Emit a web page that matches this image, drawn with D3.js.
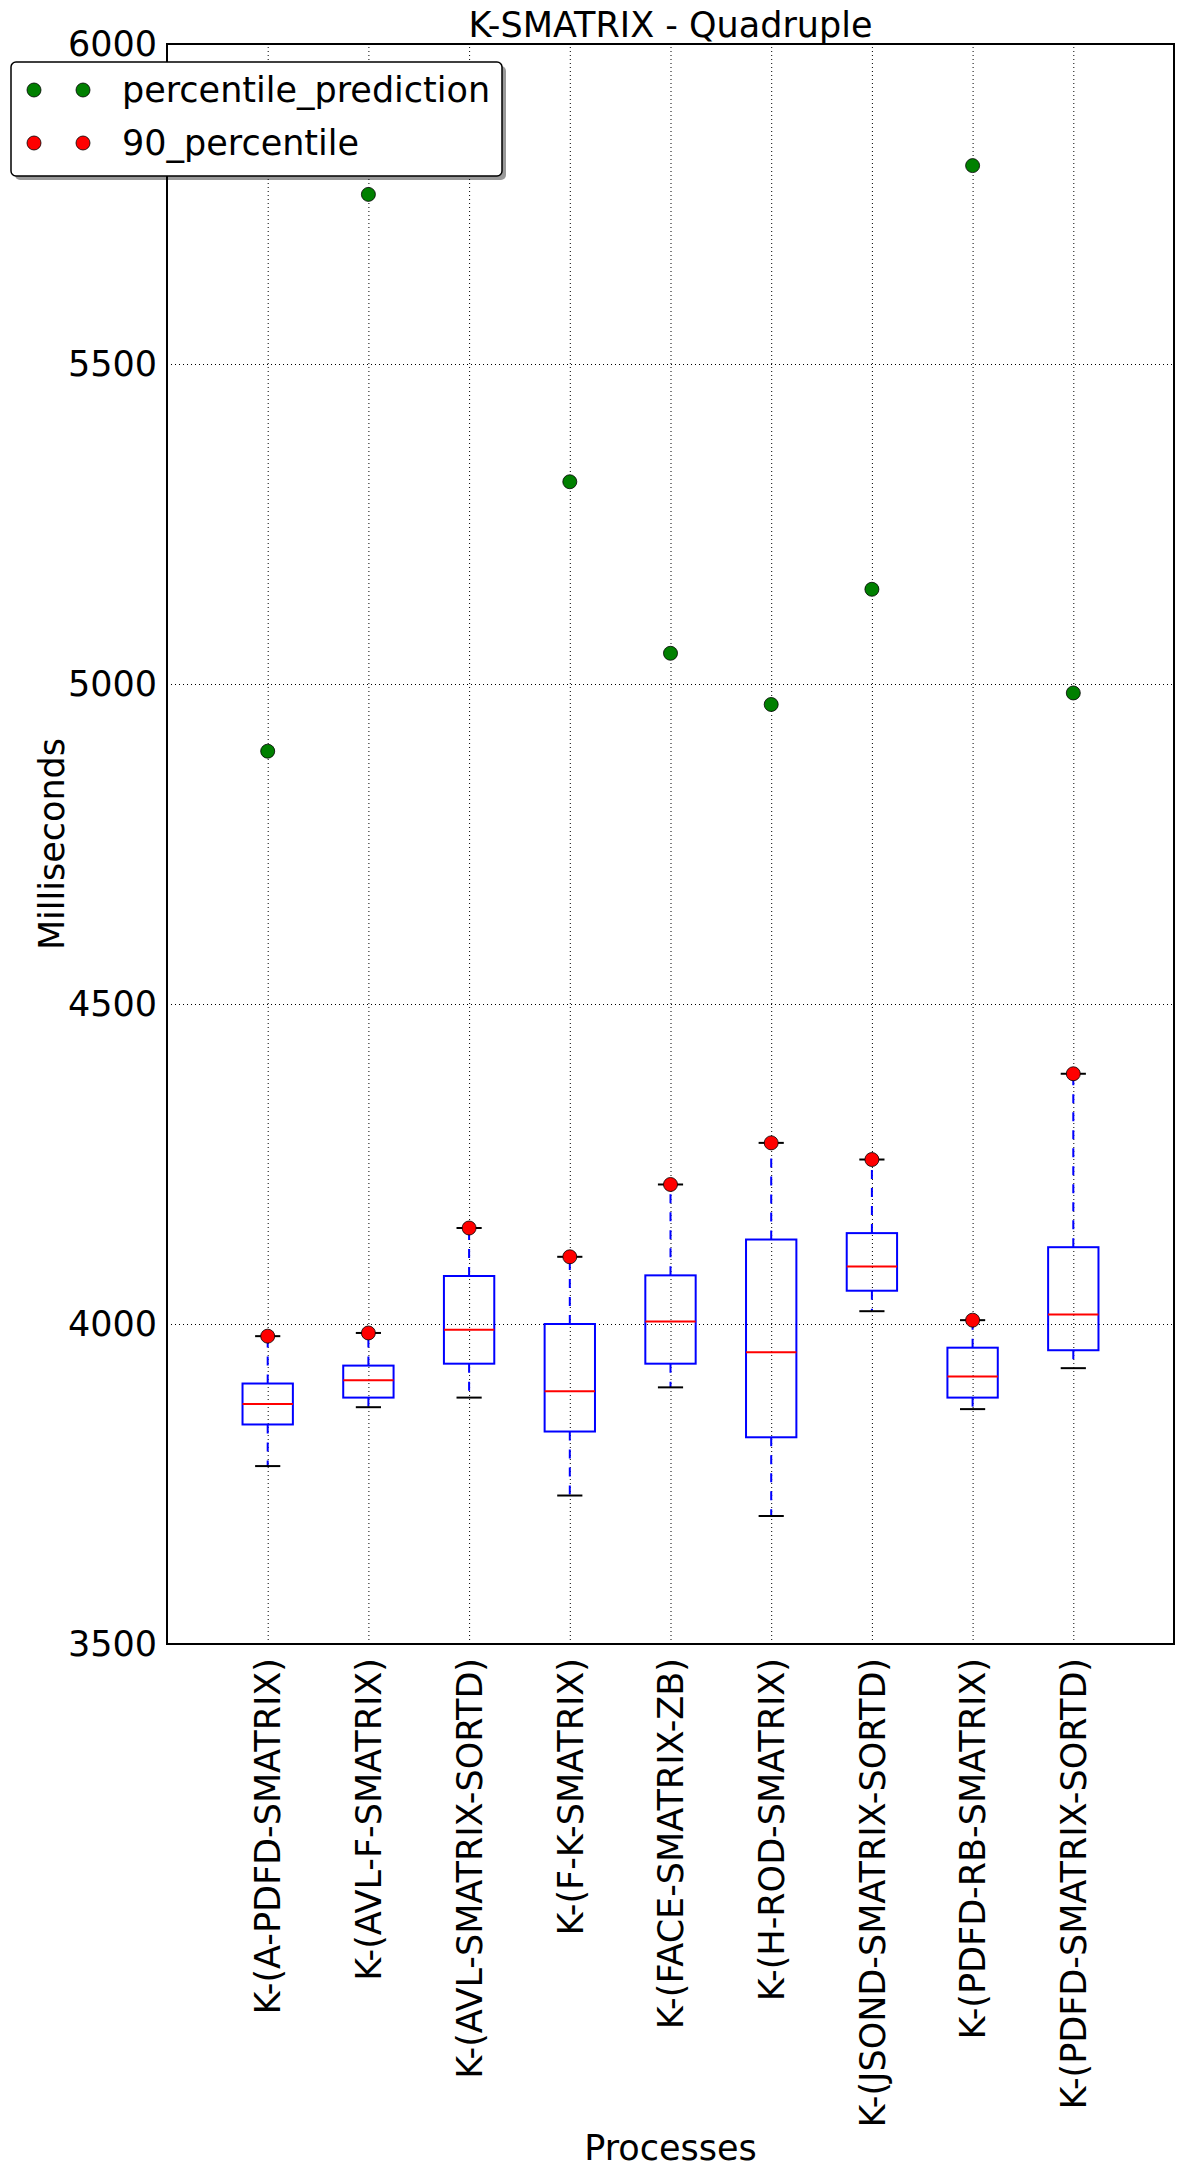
<!DOCTYPE html>
<html>
<head>
<meta charset="utf-8">
<script src="https://cdn.jsdelivr.net/npm/d3@7"></script>
<style>
  html, body { margin: 0; padding: 0; background: #fff; }
  svg { display: block; font-family: "DejaVu Sans", sans-serif; }
</style>
</head>
<body>
<svg id="chart" width="1184" height="2176"></svg>
<script>
const categories = ["K-(A-PDFD-SMATRIX)", "K-(AVL-F-SMATRIX)", "K-(AVL-SMATRIX-SORTD)", "K-(F-K-SMATRIX)", "K-(FACE-SMATRIX-ZB)", "K-(H-ROD-SMATRIX)", "K-(JSOND-SMATRIX-SORTD)", "K-(PDFD-RB-SMATRIX)", "K-(PDFD-SMATRIX-SORTD)"];
const whiskerLow  = [3778, 3870, 3885, 3732, 3901, 3700, 4020, 3867, 3931];
const q1          = [3843, 3885, 3938, 3832, 3938, 3823, 4052, 3885, 3959];
const median      = [3875, 3912, 3991, 3895, 4004, 3956, 4090, 3918, 4015];
const q3          = [3907, 3935, 4075, 4000, 4076, 4132, 4142, 3963, 4120];
const whiskerHigh = [3981, 3986, 4150, 4105, 4218, 4283, 4257, 4006, 4391];
const percentile90 = [3981, 3986, 4150, 4105, 4218, 4283, 4257, 4006, 4391];
const percentilePrediction = [4895, 5765, null, 5316, 5048, 4968, 5148, 5810, 4986];
const yTicks = [3500, 4000, 4500, 5000, 5500, 6000];
const legendLabels = ["percentile_prediction", "90_percentile"];
const legendColors = ["#008000", "#ff0000"];

const L = 167, R = 1174, T = 44, B = 1644;
const svg = d3.select("#chart");
const x = d3.scaleLinear().domain([0, categories.length + 1]).range([L, R]);
const y = d3.scaleLinear().domain([3500, 6000]).range([B, T]);
const pos = categories.map((c, i) => i + 1);
const step = x(1) - x(0);
const boxW = step * 0.5, capW = step * 0.25;
const FS = 35;

// grid
const gy = svg.append("g").attr("transform", `translate(${L},0)`)
  .call(d3.axisLeft(y).tickValues(yTicks).tickSize(-(R - L)).tickFormat(""));
gy.select(".domain").remove();
gy.selectAll("line").attr("stroke", "#000").attr("stroke-width", 1).attr("stroke-dasharray", "1,3");
const gx = svg.append("g").attr("transform", `translate(0,${B})`)
  .call(d3.axisBottom(x).tickValues(pos).tickSize(-(B - T)).tickFormat(""));
gx.select(".domain").remove();
gx.selectAll("line").attr("stroke", "#000").attr("stroke-width", 1).attr("stroke-dasharray", "1,3");

// boxes
const data = categories.map((c, i) => ({
  p: pos[i], lo: whiskerLow[i], q1: q1[i], med: median[i], q3: q3[i], hi: whiskerHigh[i],
  p90: percentile90[i], pred: percentilePrediction[i]
}));
const g = svg.append("g");
const bx = g.selectAll("g.box").data(data).join("g").attr("class", "box");
bx.append("line").attr("x1", d => x(d.p)).attr("x2", d => x(d.p))
  .attr("y1", d => y(d.q3)).attr("y2", d => y(d.hi))
  .attr("stroke", "#0000ff").attr("stroke-width", 2).attr("stroke-dasharray", "9,9");
bx.append("line").attr("x1", d => x(d.p)).attr("x2", d => x(d.p))
  .attr("y1", d => y(d.q1)).attr("y2", d => y(d.lo))
  .attr("stroke", "#0000ff").attr("stroke-width", 2).attr("stroke-dasharray", "9,9");
bx.append("line").attr("x1", d => x(d.p) - capW / 2).attr("x2", d => x(d.p) + capW / 2)
  .attr("y1", d => y(d.hi)).attr("y2", d => y(d.hi)).attr("stroke", "#000").attr("stroke-width", 2);
bx.append("line").attr("x1", d => x(d.p) - capW / 2).attr("x2", d => x(d.p) + capW / 2)
  .attr("y1", d => y(d.lo)).attr("y2", d => y(d.lo)).attr("stroke", "#000").attr("stroke-width", 2);
bx.append("rect").attr("x", d => x(d.p) - boxW / 2).attr("width", boxW)
  .attr("y", d => y(d.q3)).attr("height", d => y(d.q1) - y(d.q3))
  .attr("fill", "none").attr("stroke", "#0000ff").attr("stroke-width", 2);
bx.append("line").attr("x1", d => x(d.p) - boxW / 2).attr("x2", d => x(d.p) + boxW / 2)
  .attr("y1", d => y(d.med)).attr("y2", d => y(d.med)).attr("stroke", "#ff0000").attr("stroke-width", 2);

// points
g.selectAll("circle.pred").data(data.filter(d => d.pred != null)).join("circle").attr("class", "pred")
  .attr("cx", d => x(d.p)).attr("cy", d => y(d.pred)).attr("r", 7)
  .attr("fill", "#008000").attr("stroke", "#000").attr("stroke-width", 0.8);
g.selectAll("circle.p90").data(data).join("circle").attr("class", "p90")
  .attr("cx", d => x(d.p)).attr("cy", d => y(d.p90)).attr("r", 7)
  .attr("fill", "#ff0000").attr("stroke", "#000").attr("stroke-width", 0.8);

// frame
svg.append("rect").attr("x", L).attr("y", T).attr("width", R - L).attr("height", B - T)
  .attr("fill", "none").attr("stroke", "#000").attr("stroke-width", 2);

// y tick labels
const ya = svg.append("g").attr("transform", `translate(${L},0)`)
  .call(d3.axisLeft(y).tickValues(yTicks).tickSize(0).tickPadding(10).tickFormat(d3.format("d")));
ya.select(".domain").remove();
ya.selectAll("text").attr("font-size", FS).attr("font-family", "DejaVu Sans").attr("fill", "#000");

// x tick labels
const xa = svg.append("g").attr("transform", `translate(0,${B})`)
  .call(d3.axisBottom(x).tickValues(pos).tickSize(0).tickFormat((d, i) => categories[i]));
xa.select(".domain").remove();
xa.selectAll("text").attr("font-size", FS).attr("font-family", "DejaVu Sans").attr("fill", "#000")
  .attr("transform", "rotate(-90)").attr("x", -14).attr("y", 0).attr("dy", "0.35em")
  .attr("text-anchor", "end");

// titles
svg.append("text").attr("x", (L + R) / 2).attr("y", 37).attr("text-anchor", "middle")
  .attr("font-size", FS).text("K-SMATRIX - Quadruple");
svg.append("text").attr("x", (L + R) / 2).attr("y", 2160).attr("text-anchor", "middle")
  .attr("font-size", FS).text("Processes");
svg.append("text").attr("transform", `translate(64,${(T + B) / 2}) rotate(-90)`).attr("text-anchor", "middle")
  .attr("font-size", FS).text("Milliseconds");

// legend
const lg = svg.append("g");
lg.append("rect").attr("x", 15).attr("y", 66).attr("width", 491).attr("height", 114).attr("rx", 5)
  .attr("fill", "#000").attr("opacity", 0.4);
lg.append("rect").attr("x", 11).attr("y", 62).attr("width", 491).attr("height", 114).attr("rx", 5)
  .attr("fill", "#fff").attr("stroke", "#000").attr("stroke-width", 1.5);
legendLabels.forEach((lab, i) => {
  const cy = 90 + i * 53;
  [34, 83].forEach(cx => lg.append("circle").attr("cx", cx).attr("cy", cy).attr("r", 7)
    .attr("fill", legendColors[i]).attr("stroke", "#000").attr("stroke-width", 0.8));
  lg.append("text").attr("x", 122).attr("y", cy).attr("dy", "0.35em").attr("font-size", FS).text(lab);
});
</script>
</body>
</html>
